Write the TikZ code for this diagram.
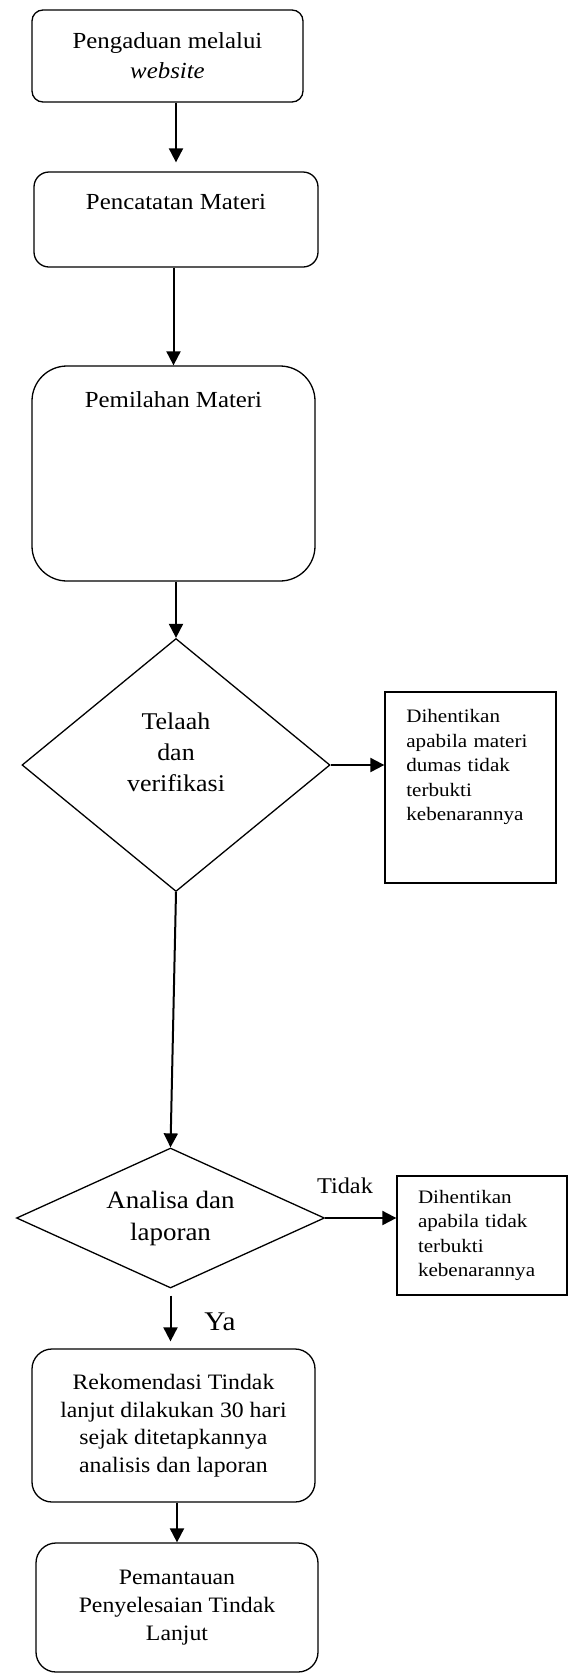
\documentclass[tikz,border=0pt]{standalone}
\usepackage{fontspec}
\setmainfont{Liberation Serif}[FakeStretch=1.08]
\newfontfamily\notefont{Liberation Serif}[FakeStretch=1.11]
\usepackage{tikz}
\usetikzlibrary{arrows.meta, shapes.geometric, positioning}

\begin{document}
\begin{tikzpicture}[
            x = 1pt, y = -1pt, % one unit per pixel, y going down
            > = {Triangle[length=14pt, width=14pt]}, % arrow head style
            line width = 2pt % connector line style
        ]

        \tikzstyle{proc}=[
            draw = black,
            line width = 1.3pt,
            rounded corners = 20pt,
            inner sep = 0pt,
            align = center,
            font = \fontsize{22}{27.5}\selectfont
        ]

        \tikzstyle{decision}=[
            draw = black,
            line width = 1.3pt,
            diamond,
            inner sep = 0pt,
            align = center,
            font = \fontsize{25}{32}\selectfont
        ]

        \tikzstyle{stopbox}=[
            draw = black,
            line width = 1.3pt,
            inner sep = 0pt
        ]

        \tikzstyle{txt}=[
            inner sep = 0pt,
            align = center,
            font = \fontsize{23}{30}\selectfont
        ]

        \tikzstyle{note}=[
            inner sep = 0pt,
            text width = 140pt,
            align = left,
            font = \notefont\fontsize{19}{24.5}\selectfont
        ]

        \useasboundingbox (0,0) rectangle (575,1676);

        % processes
        \node[proc, rounded corners = 11pt, minimum width = 271pt, minimum height = 92pt,
              font = \fontsize{23}{30}\selectfont] (pengaduan) at (167.5,56) {Pengaduan melalui\\\textit{website}};
        \node[proc, rounded corners = 15pt, minimum width = 284pt, minimum height = 95pt] (pencatatan) at (176,219.5) {};
        \node[txt, below = 21.5pt of pencatatan.north] (pencatatan text) {Pencatatan Materi};
        \node[proc, rounded corners = 35pt, minimum width = 283pt, minimum height = 215pt] (pemilahan) at (173.5,473.5) {};
        \node[txt, below = 25pt of pemilahan.north] (pemilahan text) {Pemilahan Materi};

        % first check
        \node[decision, minimum width = 308pt, minimum height = 253pt] (telaah) at (176,765) {};
        \node[txt, font = \fontsize{24}{31}\selectfont] (telaah text) at ([yshift=13pt]telaah.center) {Telaah\\dan\\verifikasi};
        \node[stopbox, minimum width = 171pt, minimum height = 191pt] (stop1) at (470.5,787.5) {};
        \node[note, below right = 17pt and 21pt of stop1.north west] (stop1 text)
            {Dihentikan\\apabila materi\\dumas tidak\\terbukti\\kebenarannya};

        % second check
        \node[decision, aspect = 2.2, minimum width = 308pt, minimum height = 140pt] (analisa) at (170.5,1218) {Analisa dan\\laporan};
        \node[stopbox, note, minimum width = 170pt, minimum height = 119pt, text width = 128pt] (stop2) at (482,1235.5)
            {Dihentikan\\apabila tidak\\terbukti\\kebenarannya};
        \node[txt, font = \fontsize{22.5}{27}\selectfont] (tidak) at (345,1186) {Tidak};
        \node[txt, font = \fontsize{27}{32}\selectfont] (ya) at (220,1322) {Ya};

        % follow up
        \node[proc, minimum width = 283pt, minimum height = 153pt] (rekomendasi) at (173.5,1425.5)
            {Rekomendasi Tindak\\lanjut dilakukan 30 hari\\sejak ditetapkannya\\analisis dan laporan};
        \node[proc, minimum width = 282pt, minimum height = 129pt, font = \fontsize{22}{28}\selectfont] (pemantauan) at (177,1607.5)
            {Pemantauan\\Penyelesaian Tindak\\Lanjut};

        \draw[->, shorten > = 9pt] (pencatatan.north |- pengaduan.south) -- (pencatatan.north);
        \draw[->] (pemilahan.north |- pencatatan.south) -- (pemilahan.north);
        \draw[->] (telaah.north |- pemilahan.south) -- (telaah.north);
        \draw[->] (telaah.east) -- (stop1.west |- telaah.east);
        \draw[->] (telaah.south) -- (analisa.north);
        \draw[->] (analisa.east) -- (stop2.west |- analisa.east);
        \draw[->, shorten < = 7pt, shorten > = 7pt] (analisa.south) -- (analisa.south |- rekomendasi.north);
        \draw[->] (pemantauan.north |- rekomendasi.south) -- (pemantauan.north);

    \end{tikzpicture}
\end{document}
